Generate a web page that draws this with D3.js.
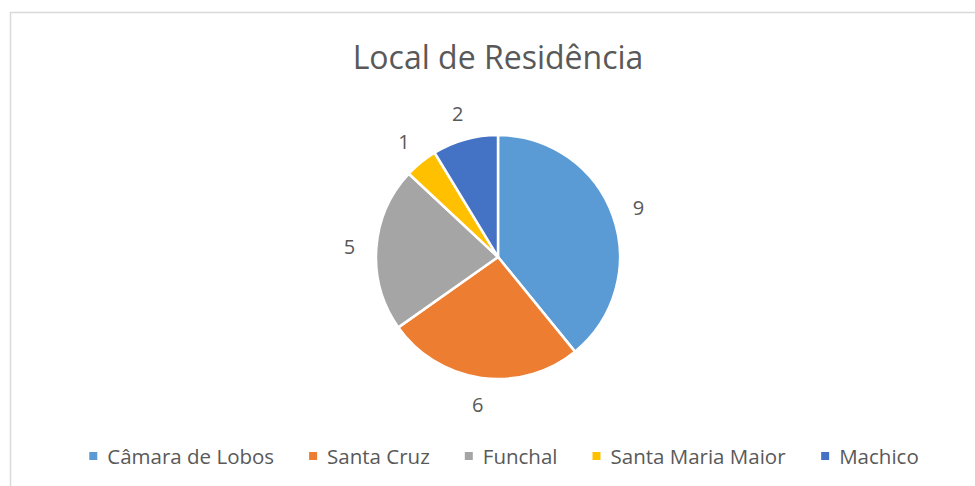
<!DOCTYPE html>
<html>
<head>
<meta charset="utf-8">
<script src="https://cdn.jsdelivr.net/npm/d3@7"></script>
<style>
  body { margin: 0; background: #fff; }
  svg { display: block; }
  text { font-family: "Open Sans", "Liberation Sans", sans-serif; fill: #595959; }
</style>
</head>
<body>
<div id="chart"></div>
<script>
// data
const categories = ["Câmara de Lobos", "Santa Cruz", "Funchal", "Santa Maria Maior", "Machico"];
const values = [9, 6, 5, 1, 2];
const colors = ["#5B9BD5", "#ED7D31", "#A5A5A5", "#FFC000", "#4472C4"];
const title = "Local de Residência";

const W = 975, H = 486;
const cx = 498, cy = 257;
const radius = 122;
const labelRadius = 149;

const svg = d3.select("#chart")
  .append("svg")
  .attr("width", W)
  .attr("height", H);

// chart frame (runs off the right and bottom edges)
svg.append("rect")
  .attr("x", 10.5)
  .attr("y", 12.5)
  .attr("width", W + 20)
  .attr("height", H + 20)
  .attr("fill", "#fff")
  .attr("stroke", "#d9d9d9")
  .attr("stroke-width", 1.5);

svg.append("text")
  .attr("x", cx)
  .attr("y", 69)
  .attr("text-anchor", "middle")
  .style("font-size", "32px")
  .text(title);

const data = categories.map((c, i) => ({ name: c, value: values[i], color: colors[i] }));

const pie = d3.pie()
  .value(d => d.value)
  .sort(null);

const arcs = pie(data);

const arc = d3.arc()
  .innerRadius(0)
  .outerRadius(radius);

const labelArc = d3.arc()
  .innerRadius(labelRadius)
  .outerRadius(labelRadius);

const g = svg.append("g")
  .attr("transform", "translate(" + cx + "," + cy + ")");

g.selectAll("path")
  .data(arcs)
  .enter()
  .append("path")
  .attr("d", arc)
  .attr("fill", d => d.data.color)
  .attr("stroke", "#fff")
  .attr("stroke-width", 2.5)
  .attr("stroke-linejoin", "round");

g.selectAll("text.lbl")
  .data(arcs)
  .enter()
  .append("text")
  .attr("class", "lbl")
  .attr("x", d => labelArc.centroid(d)[0])
  .attr("y", d => labelArc.centroid(d)[1])
  .attr("text-anchor", "middle")
  .attr("dominant-baseline", "central")
  .style("font-size", "20px")
  .text(d => d.data.value);

// legend, centered under the pie
const legend = svg.append("g");
const items = legend.selectAll("g")
  .data(data)
  .enter()
  .append("g");

items.append("rect")
  .attr("width", 8)
  .attr("height", 8)
  .attr("y", -4)
  .attr("fill", d => d.color);

items.append("text")
  .attr("x", 18)
  .attr("dominant-baseline", "central")
  .style("font-size", "20.5px")
  .text(d => d.name);

let xpos = 0;
const gap = 35;
items.each(function() {
  const w = this.getBBox().width;
  d3.select(this).attr("transform", "translate(" + xpos + ",0)");
  xpos += w + gap;
});
const total = xpos - gap;
legend.attr("transform", "translate(" + (cx + 6 - total / 2) + ",456)");
</script>
</body>
</html>
